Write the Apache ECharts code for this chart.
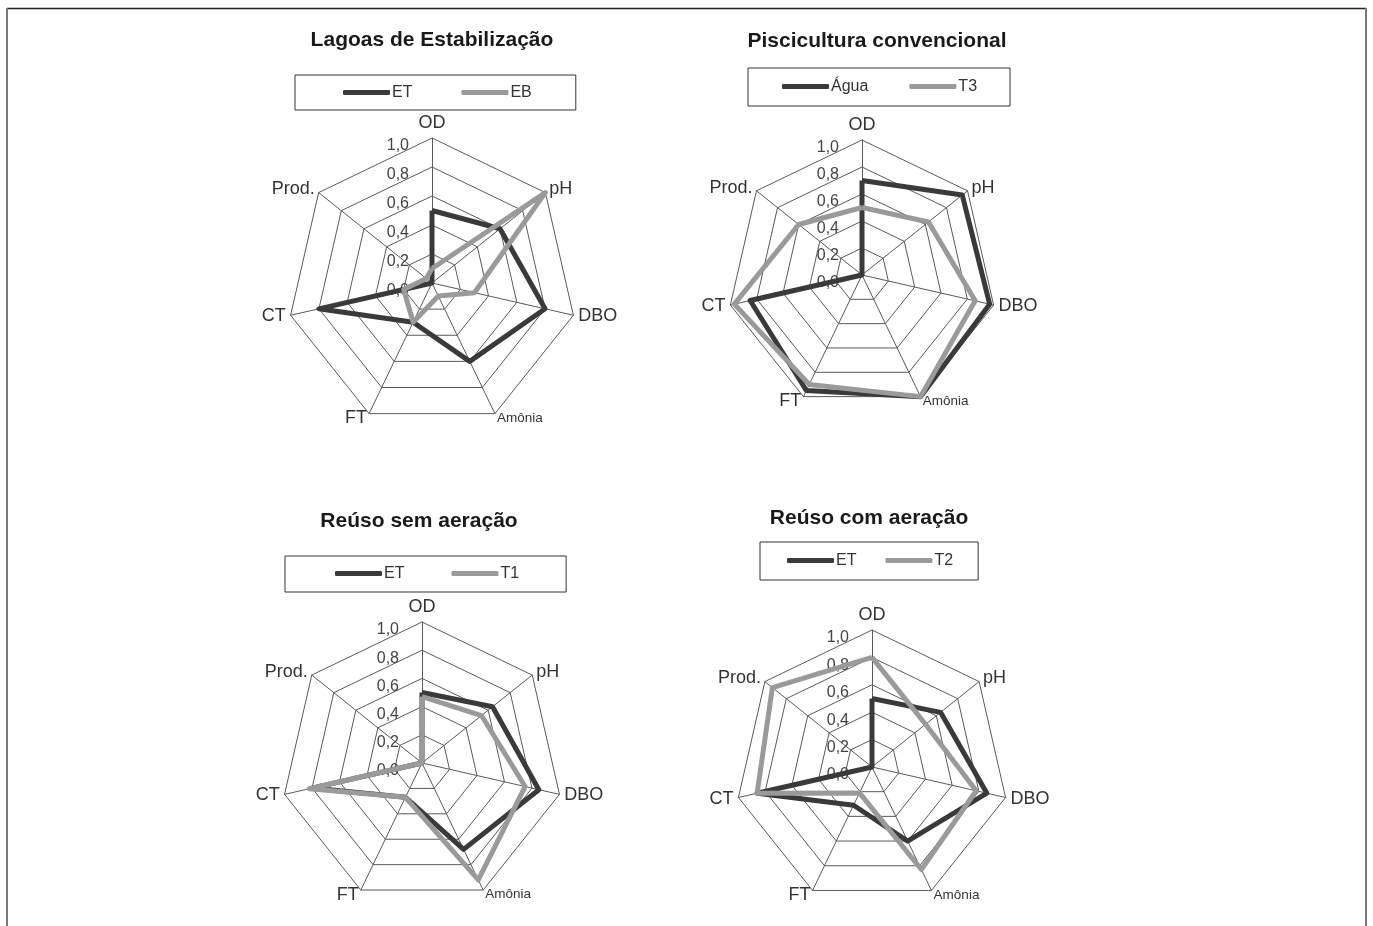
<!DOCTYPE html>
<html>
<head>
<meta charset="utf-8">
<script src="https://cdn.jsdelivr.net/npm/echarts@6/dist/echarts.min.js"></script>
<style>
  html, body { margin: 0; padding: 0; background: #ffffff; }
  #chart { width: 1373px; height: 926px; }
</style>
</head>
<body>
<div id="chart"></div>
<script>
// Axis categories (clockwise from the top)
const axisNames = ['OD', 'pH', 'DBO', 'Amônia', 'FT', 'CT', 'Prod.'];
const tickValues = [0, 0.2, 0.4, 0.6, 0.8, 1.0];

// Panel titles
const titles = ['Lagoas de Estabilização', 'Piscicultura convencional', 'Reúso sem aeração', 'Reúso com aeração'];

// Series names per panel
const names1 = ['ET', 'EB'];
const names2 = ['Água', 'T3'];
const names3 = ['ET', 'T1'];
const names4 = ['ET', 'T2'];

// Values (order: OD, pH, DBO, Amônia, FT, CT, Prod.)
const lagoasET = [0.5, 0.6, 0.8, 0.6, 0.3, 0.8, 0.0];
const lagoasEB = [0.1, 1.0, 0.3, 0.1, 0.3, 0.2, 0.05];
const piscAgua = [0.7, 0.95, 0.97, 1.0, 0.95, 0.85, 0.0];
const piscT3 = [0.5, 0.63, 0.86, 1.0, 0.9, 0.97, 0.6];
const semET = [0.5, 0.64, 0.85, 0.68, 0.27, 0.8, 0.0];
const semT1 = [0.47, 0.54, 0.75, 0.92, 0.27, 0.82, 0.0];
const comET = [0.5, 0.64, 0.86, 0.6, 0.31, 0.86, 0.0];
const comT2 = [0.8, 0.5, 0.78, 0.83, 0.21, 0.86, 0.93];

const DARK = '#3a3a3a';
const GRAY = '#9a9a9a';
const GRID = '#5a5a5a';
const FONT = '"Liberation Sans", Arial, sans-serif';

// ECharts lays radar indicators counter-clockwise; reverse to get clockwise order
function cw(arr) { return [arr[0]].concat(arr.slice(1).reverse()); }

function indicators() {
  return cw(axisNames).map(function (n, i) {
    const ind = { name: n, min: 0, max: 1, nameGap: 5 };
    if (i === 0) {
      ind.nameGap = 6;
      ind.axisLabel = {
        show: true,
        color: '#444',
        fontSize: 16,
        fontFamily: FONT,
        margin: 23,
        verticalAlign: 'top',
        formatter: function (v) { return v.toFixed(1).replace('.', ','); }
      };
    }
    return ind;
  });
}

const layout = [
  { center: [432, 283], radius: 145 },
  { center: [862, 275], radius: 135 },
  { center: [422, 763], radius: 141 },
  { center: [872, 767], radius: 137 }
];

const radars = layout.map(function (l) {
  return {
    center: l.center,
    radius: l.radius,
    startAngle: 90,
    splitNumber: tickValues.length - 1,
    shape: 'polygon',
    indicator: indicators(),
    axisName: {
      color: '#333',
      fontSize: 18,
      fontFamily: FONT,
      formatter: function (name) { return name === 'Amônia' ? '{s|' + name + '}' : name; },
      rich: { s: { fontSize: 13.5, color: '#333', fontFamily: FONT } }
    },
    nameGap: 5,
    axisLine: { lineStyle: { color: GRID, width: 1 } },
    splitLine: { lineStyle: { color: GRID, width: 1 } },
    splitArea: { show: false },
    axisLabel: { show: false },
    axisTick: { show: false }
  };
});

function makeSeries(idx, nm, dark, gray) {
  return {
    type: 'radar',
    radarIndex: idx,
    symbol: 'none',
    silent: true,
    data: [
      { name: nm[0], value: cw(dark), lineStyle: { color: DARK, width: 5 }, itemStyle: { color: DARK } },
      { name: nm[1], value: cw(gray), lineStyle: { color: GRAY, width: 5 }, itemStyle: { color: GRAY } }
    ]
  };
}

const titleDefs = [
  { x: 432, y: 30 }, { x: 877, y: 31 }, { x: 419, y: 511 }, { x: 869, y: 508 }
];

const legendDefs = [
  { left: 295, top: 75, data: names1, padding: [9, 44, 9, 48], gap: 49 },
  { left: 748, top: 68, data: names2, padding: [10, 33, 11, 34], gap: 41 },
  { left: 285, top: 556, data: names3, padding: [9, 47, 10, 50], gap: 47 },
  { left: 760, top: 542, data: names4, padding: [10, 25, 11, 27], gap: 29 }
];

const option = {
  backgroundColor: '#ffffff',
  animation: false,
  title: titles.map(function (t, i) {
    return {
      text: t,
      left: titleDefs[i].x,
      top: titleDefs[i].y,
      textAlign: 'center',
      padding: 0,
      textStyle: { fontFamily: FONT, fontSize: 21, fontWeight: 'bold', color: '#1a1a1a' }
    };
  }),
  legend: legendDefs.map(function (d) {
    return {
      left: d.left,
      top: d.top,
      data: d.data,
      orient: 'horizontal',
      padding: d.padding,
      itemGap: d.gap,
      itemWidth: 47,
      itemHeight: 5,
      icon: 'roundRect',
      borderColor: '#333',
      borderWidth: 1,
      borderRadius: 0,
      selectedMode: false,
      textStyle: { fontFamily: FONT, fontSize: 16, color: '#333', lineHeight: 17, padding: [0, 0, 0, -3] }
    };
  }),
  radar: radars,
  series: [
    makeSeries(0, names1, lagoasET, lagoasEB),
    makeSeries(1, names2, piscAgua, piscT3),
    makeSeries(2, names3, semET, semT1),
    makeSeries(3, names4, comET, comT2)
  ],
  graphic: [
    { type: 'line', shape: { x1: 7, y1: 8.5, x2: 1366, y2: 8.5 }, style: { stroke: '#222', lineWidth: 1.5 }, silent: true },
    { type: 'line', shape: { x1: 7, y1: 8, x2: 7, y2: 926 }, style: { stroke: '#777', lineWidth: 2 }, silent: true },
    { type: 'line', shape: { x1: 1366, y1: 8, x2: 1366, y2: 926 }, style: { stroke: '#777', lineWidth: 2 }, silent: true }
  ]
};

const chart = echarts.init(document.getElementById('chart'), null, { renderer: 'canvas' });
chart.setOption(option);
</script>
</body>
</html>
